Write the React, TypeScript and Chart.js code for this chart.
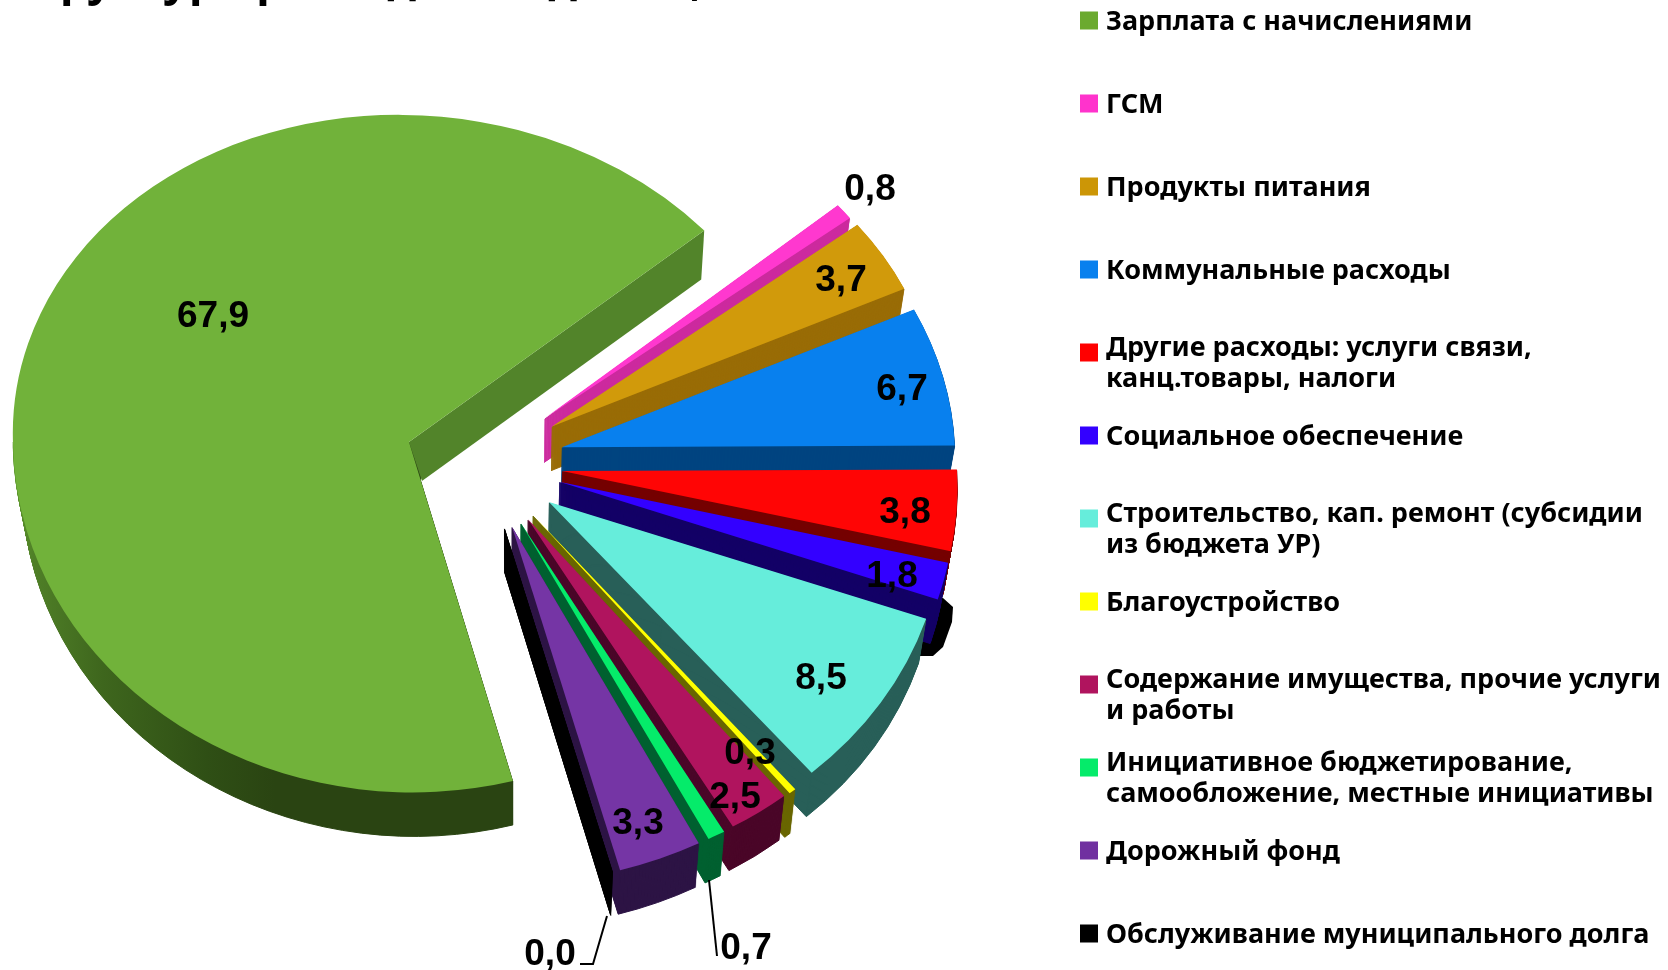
import React, { useEffect, useRef } from "react";
import { Chart, registerables } from "chart.js";

Chart.register(...registerables);

const categories: string[][] = [
  ["Зарплата с начислениями"],
  ["ГСМ"],
  ["Продукты питания"],
  ["Коммунальные расходы"],
  ["Другие расходы: услуги связи,", "канц.товары, налоги"],
  ["Социальное обеспечение"],
  ["Строительство, кап. ремонт (субсидии", "из бюджета УР)"],
  ["Благоустройство"],
  ["Содержание имущества, прочие услуги", "и работы"],
  ["Инициативное бюджетирование,", "самообложение, местные инициативы"],
  ["Дорожный фонд"],
  ["Обслуживание муниципального долга"],
];
const values = [67.9, 0.8, 3.7, 6.7, 3.8, 1.8, 8.5, 0.3, 2.5, 0.7, 3.3, 0.0];
const topColors = ["#71B23A", "#FF38CF", "#D19A0B", "#0880EE", "#FF0505", "#3300FF", "#66EDDB", "#FFFF00", "#B0145E", "#05EB6A", "#7535A5", "#000000"];
const wallColors = ["#2A4412", "#CC2A9E", "#996C06", "#004480", "#750000", "#130066", "#285F58", "#696600", "#4A0628", "#006030", "#2D1445", "#000000"];
const legendColors = ["#6BAA2F", "#FF33CC", "#CC9606", "#0880EE", "#FF0000", "#3300FF", "#66EDDB", "#FFFF00", "#B0145E", "#05EB6A", "#7030A0", "#000000"];

// layout (not data)
const W = 1668, H = 970;
const CX = 485, CY = 460, R = 396, ROTATION = 165.3;
const EXPLODE = 76.6, EXPLODE_Y = 0.93, DEPTH = 44;
const VANISH_X = 513, VANISH_SHRINK = 0.018;
// per-slice tilt of the pie's plane: [a, b, c, d] of x' = a x + b y, y' = c x + d y
const sliceMatrix: number[][] = [
  [1, 0.009, 0, 0.885],
  [0.97, 0, 0, 0.833],
  [0.98, 0.012, -0.015, 0.82],
  [0.992, 0.041, -0.005, 0.842],
  [0.997, 0.055, -0.005, 0.873],
  [0.995, 0.064, 0, 0.86],
  [1, 0.041, -0.015, 0.894],
  [1, 0.04, 0, 0.893],
  [1.01, 0.03, 0, 0.888],
  [1.02, 0.02, 0, 0.892],
  [1.03, 0.012, -0.012, 0.9],
  [1.03, 0.012, -0.012, 0.9],
];
const farMatrix = [1, 0.027, 0, 0.826]; // far half of the large slice
const sliceNudge: number[][] = [
  [-3, 3.4], [0, 3], [1, 3], [2, 2], [1, 2.5], [1, 1], [1.6, 0.6], [0, -0.6], [0.6, 0], [0, 0], [0, 0], [0, -1],
];
const labelPos: [number, number][] = [[213, 316.5], [870, 189.5], [841, 280.5], [902, 389.5], [905, 512.5], [892, 576.5], [821, 678.5], [750, 753.5], [735, 797.5], [746, 948.5], [638, 823.5], [550, 954.5]];
const leaders: [number, number][][] = [
  [[709, 880], [717, 956]],
  [[607, 916], [593, 964], [580, 964]],
];
const blob: [number, number][] = [[920, 600], [943, 598], [953, 607], [952, 622], [943, 647], [933, 656], [915, 656]];
const rimShade: [number, string][] = [[10, "#5F9A2E"], [34, "#4F7F27"], [103, "#3E661D"], [207, "#2F4F15"], [275, "#2A4412"]];
const LEGEND_FONT = '700 27px "Noto Sans"';
const LABEL_FONT = '700 37px "Liberation Sans"';
const TITLE = "Структура расходов бюджета,";
const TITLE_FONT = '700 45px "Noto Sans"';

function applySlice(ctx: CanvasRenderingContext2D, arc: any, i: number, dy: number, m: number[] = sliceMatrix[i]) {
  const mid = (arc.startAngle + arc.endAngle) / 2;
  if (dy > 0) {
    // walls lean toward a vanishing point
    ctx.translate(VANISH_X, 0);
    ctx.scale(1 - (VANISH_SHRINK * dy) / DEPTH, 1);
    ctx.translate(-VANISH_X, 0);
  }
  ctx.translate(
    arc.x + Math.cos(mid) * EXPLODE + sliceNudge[i][0],
    arc.y + Math.sin(mid) * EXPLODE * EXPLODE_Y + sliceNudge[i][1] + dy,
  );
  ctx.transform(m[0], m[2], m[1], m[3], 0, 0);
  ctx.translate(-arc.x, -arc.y);
}

function slicePath(ctx: CanvasRenderingContext2D, arc: any) {
  ctx.beginPath();
  ctx.moveTo(arc.x, arc.y);
  ctx.arc(arc.x, arc.y, arc.outerRadius, arc.startAngle, arc.endAngle);
  ctx.closePath();
}

function extrude(ctx: CanvasRenderingContext2D, arc: any, i: number, wall: any) {
  for (let d = DEPTH; d >= 1; d--) {
    ctx.save();
    applySlice(ctx, arc, i, d);
    slicePath(ctx, arc);
    ctx.restore();
    ctx.fillStyle = wall;
    ctx.strokeStyle = wall;
    ctx.lineWidth = 1;
    ctx.fill();
    ctx.stroke();
  }
}

function drawLargeSlice(ctx: CanvasRenderingContext2D, arc: any) {
  ctx.save();
  applySlice(ctx, arc, 0, 0);
  const near = ctx.getTransform();
  ctx.restore();
  ctx.save();
  applySlice(ctx, arc, 0, 0, farMatrix);
  const far = ctx.getTransform();
  ctx.restore();
  const apex = near.transformPoint({ x: arc.x, y: arc.y });
  const tip = far.transformPoint({
    x: arc.x + Math.cos(arc.endAngle) * arc.outerRadius,
    y: arc.y + Math.sin(arc.endAngle) * arc.outerRadius,
  });
  const split = Math.round(apex.y);

  // curved rim wall, shaded from left to right
  const g = ctx.createLinearGradient(10, 0, 275, 0);
  rimShade.forEach(([x, c]) => g.addColorStop((x - 10) / 265, c));
  ctx.save();
  ctx.beginPath();
  ctx.rect(0, split, W, H - split);
  ctx.clip();
  extrude(ctx, arc, 0, g);
  ctx.restore();

  // flat wall under the upper straight edge
  ctx.beginPath();
  ctx.moveTo(apex.x, apex.y);
  ctx.lineTo(tip.x, tip.y);
  ctx.lineTo(tip.x - 3, tip.y + 49);
  ctx.lineTo(apex.x + 13, apex.y + 39);
  ctx.closePath();
  ctx.fillStyle = "#52842A";
  ctx.fill();

  // top surface, far and near halves
  ctx.save();
  ctx.beginPath();
  ctx.rect(0, 0, W, split + 0.5);
  ctx.clip();
  applySlice(ctx, arc, 0, 0, farMatrix);
  arc.draw(ctx);
  ctx.restore();
  ctx.save();
  ctx.beginPath();
  ctx.rect(0, split, W, H - split);
  ctx.clip();
  applySlice(ctx, arc, 0, 0);
  arc.draw(ctx);
  ctx.restore();
}

const pie3d = {
  id: "pie3d",
  beforeDatasetDraw(chart: any, args: any) {
    const ctx: CanvasRenderingContext2D = chart.ctx;
    const arcs = args.meta.data;
    arcs.forEach((arc: any, i: number) => {
      if (i === 0) {
        drawLargeSlice(ctx, arc);
        // dark smudge behind the right-hand slices
        ctx.save();
        ctx.fillStyle = "#000";
        ctx.beginPath();
        blob.forEach(([x, y], n) => (n ? ctx.lineTo(x, y) : ctx.moveTo(x, y)));
        ctx.closePath();
        ctx.fill();
        ctx.restore();
        return;
      }
      extrude(ctx, arc, i, wallColors[i]);
      ctx.save();
      applySlice(ctx, arc, i, 0);
      arc.draw(ctx);
      ctx.restore();
    });
    return false;
  },
  afterDraw(chart: any) {
    const ctx: CanvasRenderingContext2D = chart.ctx;
    ctx.save();
    ctx.fillStyle = "#000";
    ctx.textBaseline = "middle";

    // data labels
    ctx.font = LABEL_FONT;
    ctx.textAlign = "center";
    values.forEach((v, i) => {
      const [x, y] = labelPos[i];
      ctx.fillText(v.toFixed(1).replace(".", ","), x, y);
    });
    ctx.strokeStyle = "#000";
    ctx.lineWidth = 2;
    leaders.forEach((line) => {
      ctx.beginPath();
      line.forEach(([x, y], n) => (n ? ctx.lineTo(x, y) : ctx.moveTo(x, y)));
      ctx.stroke();
    });

    // legend
    ctx.textAlign = "left";
    ctx.font = LEGEND_FONT;
    categories.forEach((lines, i) => {
      const cy = 20.5 + i * 83;
      ctx.fillStyle = legendColors[i];
      ctx.fillRect(1080, cy - 9, 18, 18);
      ctx.fillStyle = "#000";
      if (lines.length === 1) {
        ctx.fillText(lines[0], 1106, cy + 2);
      } else {
        ctx.fillText(lines[0], 1106, cy - 4.5);
        ctx.fillText(lines[1], 1106, cy + 26.5);
      }
    });

    // title, cut off by the top of the picture
    ctx.textBaseline = "alphabetic";
    ctx.font = TITLE_FONT;
    ctx.fillText(TITLE, 8, -5);
    ctx.restore();
  },
};

export default function App() {
  const ref = useRef<HTMLCanvasElement>(null);
  useEffect(() => {
    const chart = new Chart(ref.current as HTMLCanvasElement, {
      type: "pie",
      data: {
        labels: categories.map((c) => c.join(" ")),
        datasets: [{ data: values, backgroundColor: topColors, borderWidth: 0, radius: R } as any],
      },
      options: {
        animation: false,
        responsive: false,
        maintainAspectRatio: false,
        rotation: ROTATION,
        layout: { padding: { left: 0, top: 0, right: W - 2 * CX, bottom: H - 2 * CY } },
        plugins: { legend: { display: false }, tooltip: { enabled: false }, title: { display: false } },
      } as any,
      plugins: [pie3d as any],
    });
    return () => chart.destroy();
  }, []);
  return (
    <div style={{ position: "fixed", left: 0, top: 0, width: W, height: H, background: "#fff" }}>
      <canvas ref={ref} width={W} height={H} style={{ display: "block", width: W, height: H }} />
    </div>
  );
}
